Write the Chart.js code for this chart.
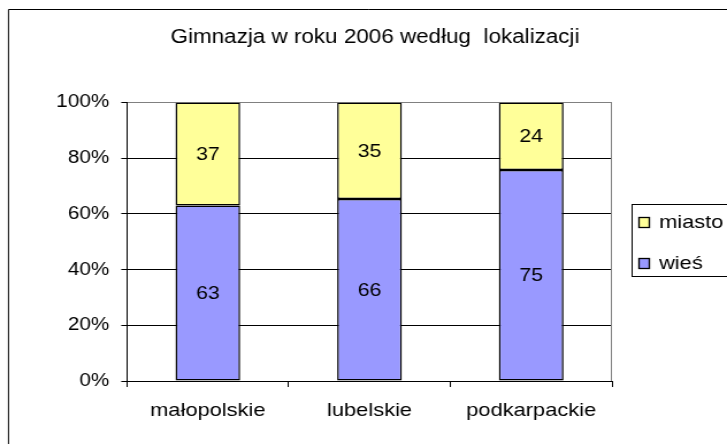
<!DOCTYPE html>
<html>
<head>
<meta charset="utf-8">
<script src="https://cdn.jsdelivr.net/npm/chart.js@4.4.1/dist/chart.umd.min.js"></script>
<style>
html,body{margin:0;padding:0;background:#fff;overflow:hidden;width:727px;height:444px;}
#wrap{width:632px;height:444px;transform:scaleX(1.15032);transform-origin:0 0;}
#c{display:block;}
</style>
</head>
<body>
<div id="wrap"><canvas id="c" width="632" height="444"></canvas></div>
<script>
// ---- data ----
const titleText = 'Gimnazja w roku 2006 według  lokalizacji';
const categories = ['małopolskie', 'lubelskie', 'podkarpackie'];
const wies = [63, 66, 75];
const miasto = [37, 35, 24];
const seriesNames = ['wieś', 'miasto'];
const yTicks = [0, 20, 40, 60, 80, 100];

// ---- derived (100% stacked shares) ----
const totals = wies.map((v, i) => v + miasto[i]);
const wiesPct = wies.map((v, i) => v / totals[i] * 100);
const miastoPct = miasto.map((v, i) => v / totals[i] * 100);
const rawValues = [wies, miasto];

const FONT = "'Liberation Sans', Arial, sans-serif";
const SX = 727 / 632; // horizontal stretch of the picture
const X = px => px / SX; // screen x -> canvas x
const COL_YELLOW = '#FFFF99';
const COL_BLUE = '#9999FF';

const framePlugin = {
  id: 'frame',
  beforeDraw(chart) {
    const ctx = chart.ctx;
    ctx.save();
    ctx.fillStyle = '#fff';
    ctx.fillRect(0, 0, chart.width, chart.height);
    ctx.strokeStyle = '#000';
    ctx.lineWidth = 1;
    ctx.beginPath();
    ctx.moveTo(X(8.5), chart.height + 2);
    ctx.lineTo(X(8.5), 9.5);
    ctx.lineTo(chart.width + 2, 9.5);
    ctx.stroke();
    ctx.restore();
  },
  beforeDatasetsDraw(chart) {
    const a = chart.chartArea, ctx = chart.ctx;
    ctx.save();
    ctx.strokeStyle = '#808080';
    ctx.lineWidth = 1;
    ctx.beginPath();
    ctx.moveTo(Math.round(a.right) - 0.5, a.top);
    ctx.lineTo(Math.round(a.right) - 0.5, a.bottom);
    ctx.stroke();
    ctx.restore();
  },
  afterDatasetsDraw(chart) {
    const ctx = chart.ctx;
    ctx.save();
    ctx.fillStyle = '#000';
    ctx.font = '18.5px ' + FONT;
    ctx.textAlign = 'center';
    ctx.textBaseline = 'middle';
    chart.data.datasets.forEach((ds, di) => {
      const meta = chart.getDatasetMeta(di);
      meta.data.forEach((el, i) => {
        const p = el.getProps(['x', 'y', 'base'], true);
        ctx.fillText(String(rawValues[di][i]), p.x, (p.y + p.base) / 2 + 1);
      });
    });
    ctx.restore();
  },
  afterDraw(chart) {
    const ctx = chart.ctx;
    ctx.save();
    // title
    ctx.fillStyle = '#000';
    ctx.font = '19.5px ' + FONT;
    ctx.textAlign = 'center';
    ctx.textBaseline = 'middle';
    ctx.fillText(titleText, X(375), 38);
    // legend
    ctx.strokeStyle = '#000';
    ctx.lineWidth = 1;
    ctx.strokeRect(Math.round(X(631)) + 0.5, 204.5, 120, 72);
    const items = [
      { label: seriesNames[1], color: COL_YELLOW, y: 222 },
      { label: seriesNames[0], color: COL_BLUE, y: 263 }
    ];
    ctx.font = '19px ' + FONT;
    ctx.textAlign = 'left';
    items.forEach(it => {
      const mx = Math.round(X(639)) + 0.5, my = Math.round(it.y - 5) + 0.5;
      ctx.fillStyle = it.color;
      ctx.fillRect(mx, my, 9, 10);
      ctx.lineWidth = 1.3;
      ctx.strokeRect(mx, my, 9, 10);
      ctx.fillStyle = '#000';
      ctx.fillText(it.label, X(659), it.y + 1);
    });
    ctx.restore();
  }
};

new Chart(document.getElementById('c'), {
  type: 'bar',
  data: {
    labels: categories,
    datasets: [
      { label: seriesNames[0], data: wiesPct, backgroundColor: COL_BLUE, borderColor: '#000', borderWidth: 1.5, borderSkipped: false },
      { label: seriesNames[1], data: miastoPct, backgroundColor: COL_YELLOW, borderColor: '#000', borderWidth: 1.5, borderSkipped: false }
    ]
  },
  options: {
    responsive: false,
    devicePixelRatio: 1,
    animation: false,
    layout: { padding: { left: 0, right: X(727 - 612), top: 102.5, bottom: 0 } },
    datasets: { bar: { barPercentage: 0.4, categoryPercentage: 1 } },
    plugins: { legend: { display: false }, title: { display: false }, tooltip: { enabled: false } },
    scales: {
      x: {
        stacked: true,
        afterFit(s) { s.height = 63; },
        grid: { offset: true, drawOnChartArea: false, drawTicks: true, tickLength: 6, color: '#000', lineWidth: 1 },
        border: { display: true, color: '#000', width: 1 },
        ticks: { color: '#000', padding: 12, font: { family: FONT, size: 19 } }
      },
      y: {
        stacked: true,
        min: 0,
        max: 100,
        afterFit(s) { s.width = X(127); },
        afterBuildTicks(s) { s.ticks = yTicks.map(v => ({ value: v })); },
        grid: {
          drawTicks: true,
          tickLength: 5,
          color: c => (c.tick && c.tick.value === 100) ? '#808080' : '#000',
          tickColor: '#000',
          lineWidth: 1
        },
        border: { display: true, color: '#000', width: 1 },
        ticks: { color: '#000', padding: 10.5, font: { family: FONT, size: 18 }, callback: v => v + '%' }
      }
    }
  },
  plugins: [framePlugin]
});
</script>
</body>
</html>
